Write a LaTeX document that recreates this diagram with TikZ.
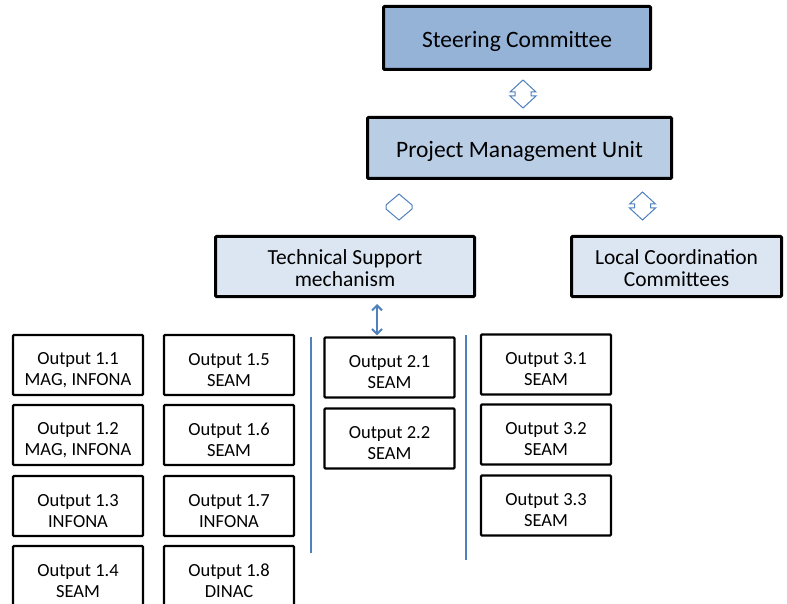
\documentclass[tikz,border=0pt]{standalone}
\usepackage{fontspec}
\setmainfont{Carlito}
\usetikzlibrary{arrows.meta}
\definecolor{accentblue}{HTML}{4F81BD}
\definecolor{darkfill}{HTML}{95B3D7}
\definecolor{midfill}{HTML}{B9CDE5}
\definecolor{lightfill}{HTML}{DCE6F2}
\tikzset{
  pics/notched/.style={code={
    \draw[blockarrow] (0,-14) -- (13,-2) -- (8,-2) -- (8,2) -- (13,2) -- (0,14) -- (-13,2) -- (-8,2) -- (-8,-2) -- (-13,-2) -- cycle;}},
  pics/plain/.style={code={
    \draw[blockarrow] (0,-13) -- (13,-2) -- (13,2) -- (0,13) -- (-13,2) -- (-13,-2) -- cycle;}}
}
\begin{document}
\begin{tikzpicture}[x=1pt,y=-1pt,
  unit/.style={draw=black,line width=3pt,rounded corners=1pt,align=center,inner sep=0pt},
  output/.style={draw=black,line width=2.2pt,rounded corners=1pt,align=center,inner sep=0pt,
    minimum width=130pt,minimum height=60pt,font=\fontsize{18.5}{21}\selectfont,
    execute at begin node={\rule{0pt}{43pt}}},
  blockarrow/.style={draw=accentblue,fill=white,line width=1pt,line join=miter},
  divider/.style={accentblue,line width=2pt},
  link/.style={accentblue,line width=2pt,{Straight Barb[length=5pt,width=10pt]}-{Straight Barb[length=5pt,width=10pt]}}]
  \useasboundingbox (0,0) rectangle (787,604);

  % Management
  \node[unit,fill=darkfill,minimum width=267pt,minimum height=63pt,font=\fontsize{23.5}{26}\selectfont,
    execute at begin node={\rule{0pt}{23pt}}] (steer) at (517,38) {Steering Committee};
  \node[unit,fill=midfill,minimum width=304pt,minimum height=61pt,font=\fontsize{23.5}{26}\selectfont,
    execute at begin node={\rule{0pt}{24pt}}] (pmu) at (519.5,148) {Project Management Unit};
  \node[unit,fill=lightfill,minimum width=259pt,minimum height=60pt,font=\fontsize{21.5}{22}\selectfont,
    execute at begin node={\rule{0pt}{41pt}}] (tsm) at (345,266.5) {Technical Support\\mechanism};
  \node[unit,fill=lightfill,minimum width=210pt,minimum height=60pt,font=\fontsize{21.5}{22}\selectfont,
    execute at begin node={\rule{0pt}{41pt}}] (lcc) at (676.5,266.5) {Local Coordination\\Committees};

  % Block arrows
  \pic at (523,94) {notched};
  \pic at (399,207) {plain};
  \pic at (642.5,206) {notched};

  % Outputs 1
  \node[output] (o11) at (78,365) {Output 1.1\\MAG, INFONA};
  \node[output] (o12) at (78,435) {Output 1.2\\MAG, INFONA};
  \node[output] (o13) at (78,506) {Output 1.3\\INFONA};
  \node[output] (o14) at (78,576) {Output 1.4\\SEAM};
  \node[output] (o15) at (229,365) {Output 1.5\\SEAM};
  \node[output] (o16) at (229,435) {Output 1.6\\SEAM};
  \node[output] (o17) at (229,506) {Output 1.7\\INFONA};
  \node[output] (o18) at (229,576) {Output 1.8\\DINAC};

  % Outputs 2
  \node[output] (o21) at (389.5,367.5) {Output 2.1\\SEAM};
  \node[output] (o22) at (389.5,438.5) {Output 2.2\\SEAM};

  % Outputs 3
  \node[output] (o31) at (546,364.5) {Output 3.1\\SEAM};
  \node[output] (o32) at (546,434.5) {Output 3.2\\SEAM};
  \node[output] (o33) at (546,505.5) {Output 3.3\\SEAM};

  % Dividers
  \draw[divider] (311,337) -- (311,553);
  \draw[divider] (466,335) -- (466,560);

  % Link
  \coordinate (tsmlink) at (377,0);
  \draw[link,shorten <=6pt,shorten >=1pt] (tsm.south -| tsmlink) -- (o21.north -| tsmlink);
\end{tikzpicture}
\end{document}
